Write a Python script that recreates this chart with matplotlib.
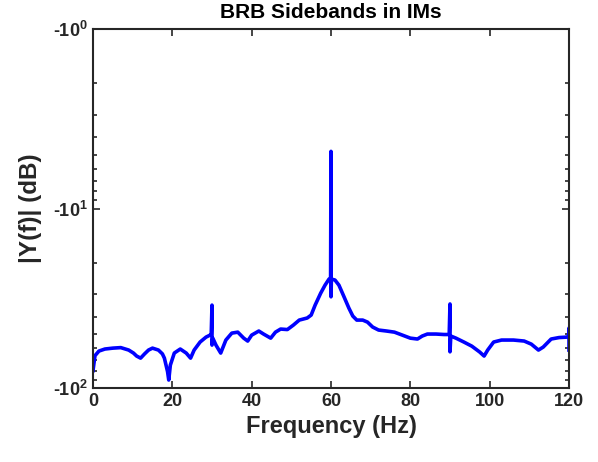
import numpy as np
import matplotlib
matplotlib.use("Agg")
import matplotlib.pyplot as plt
from matplotlib.ticker import FixedLocator, LogLocator, NullFormatter

plt.rcParams['font.family'] = ['Liberation Sans', 'DejaVu Sans']
plt.rcParams['mathtext.fontset'] = 'custom'
plt.rcParams['mathtext.rm'] = 'Liberation Sans:bold'
plt.rcParams['mathtext.bf'] = 'Liberation Sans:bold'
plt.rcParams['mathtext.default'] = 'bf'

# spectrum (frequency in Hz, magnitude in dB)
freq = [0.0, 0.5, 1.5, 3.0, 5.0, 7.0, 9.0, 10.2, 11.0, 12.0, 13.0, 14.0, 15.0,
        16.5, 17.5, 18.0, 18.8, 19.1, 19.5, 20.5, 22.0, 23.5, 24.6, 25.5, 27.0,
        28.5, 29.5, 29.8, 30.0, 30.0, 30.2, 31.0, 32.2, 33.5, 35.0, 36.5, 38.0,
        39.0, 40.0, 41.8, 43.0, 44.8, 46.0, 47.3, 49.0, 50.5, 52.0, 54.0, 55.0,
        56.0, 57.4, 58.5, 59.5, 59.9, 60.0, 60.0, 60.1, 61.0, 62.0, 63.2,
        64.5, 65.5, 66.5, 68.0, 69.2, 70.5, 72.0, 74.0, 76.0, 78.0, 80.0,
        81.8, 83.0, 84.3, 86.5, 88.5, 89.8, 90.0, 90.0, 90.2, 91.5, 93.5,
        95.5, 97.5, 98.6, 99.5, 101.0, 103.0, 106.0, 108.7, 110.5, 112.3,
        113.5, 115.5, 117.5, 119.5, 119.9, 120.0, 120.0]
mag_db = [-80.0, -66.0, -62.2, -60.6, -59.9, -59.5, -61.4, -63.8, -66.3, -68.1,
          -64.5, -61.4, -59.9, -61.4, -64.5, -68.1, -81.0, -90.2, -74.5, -63.8,
          -60.6, -63.8, -68.1, -61.4, -55.4, -52.0, -50.7, -50.7, -34.5, -57.6,
          -52.7, -57.6, -63.8, -54.0, -49.4, -48.8, -52.7, -54.7, -50.7, -48.1,
          -50.0, -52.7, -48.8, -46.9, -47.2, -44.6, -41.8, -40.7, -39.2, -34.5,
          -29.6, -26.7, -24.7, -24.7, -4.8, -31.0, -24.7, -25.0, -26.7, -30.7,
          -35.8, -39.7, -41.8, -41.8, -42.9, -45.7, -47.5, -48.1, -48.8, -50.7,
          -52.7, -53.3, -51.3, -50.0, -50.0, -50.3, -50.3, -34.0, -62.8, -51.3,
          -52.7, -55.4, -58.4, -63.0, -66.3, -61.4, -55.4, -54.0, -54.0, -54.7,
          -56.9, -61.4, -59.1, -53.3, -52.3, -52.0, -52.0, -46.3, -61.4]

y_ticks = [1, 10, 100]
y_tick_labels = ['-$10^{0}$', '-$10^{1}$', '-$10^{2}$']
x_ticks = [0, 20, 40, 60, 80, 100, 120]

fig = plt.figure(figsize=(5.98, 4.62), dpi=100)
ax = fig.add_axes([0.1555, 0.160, 0.796, 0.777])

# negative dB values on a log axis, shown as -10^k like MATLAB does
ax.plot(freq, np.abs(mag_db), color=(0, 0, 1), linewidth=2.6)
ax.set_yscale('log')
ax.set_ylim(100, 1)
ax.set_xlim(0, 120)

ax.yaxis.set_major_locator(FixedLocator(y_ticks))
ax.set_yticklabels(y_tick_labels)
ax.yaxis.set_minor_locator(LogLocator(base=10, subs=np.arange(2, 10)))
ax.yaxis.set_minor_formatter(NullFormatter())
ax.set_xticks(x_ticks)

dark = '#262626'
for s in ax.spines.values():
    s.set_color(dark)
    s.set_linewidth(1.5)
ax.tick_params(which='both', direction='in', top=True, right=True,
               color=dark, labelcolor=dark, width=1.2)
ax.tick_params(which='major', length=5, labelsize=13)
ax.tick_params(which='minor', length=3)
for lbl in ax.get_xticklabels() + ax.get_yticklabels():
    lbl.set_fontweight('bold')

ax.set_xlabel('Frequency (Hz)', fontsize=17, fontweight='bold', color=dark)
ax.set_ylabel('|Y(f)| (dB)', fontsize=17.5, fontweight='bold', color=dark, labelpad=8)
ax.set_title('BRB Sidebands in IMs', fontsize=15, fontweight='bold', color='black', pad=8)

fig.savefig('out.png', dpi=100)
